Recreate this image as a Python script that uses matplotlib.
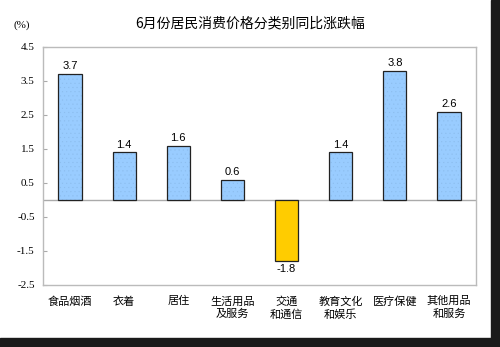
import matplotlib
matplotlib.use("Agg")
import matplotlib.pyplot as plt
from matplotlib.patches import Rectangle

plt.rcParams['font.family'] = ['Noto Sans CJK SC', 'DejaVu Sans']
plt.rcParams['hatch.linewidth'] = 0.3

categories = ["食品烟酒", "衣着", "居住", "生活用品\n及服务", "交通\n和通信",
              "教育文化\n和娱乐", "医疗保健", "其他用品\n和服务"]
values = [3.7, 1.4, 1.6, 0.6, -1.8, 1.4, 3.8, 2.6]
yticks = [4.5, 3.5, 2.5, 1.5, 0.5, -0.5, -1.5, -2.5]

fig = plt.figure(figsize=(5.0, 3.47), dpi=100)
W, H = 500, 347
ax = fig.add_axes([43 / W, 1 - 285 / H, (476 - 43) / W, (285 - 47) / H])

x = list(range(len(categories)))
colors = ["#FFCC00" if v < 0 else "#99CCFF" for v in values]
hatches = ["" if v < 0 else "...." for v in values]
# fill with fine light dots, then outline separately
ax.bar(x, values, width=0.43, color=colors, edgecolor="#8CBDEE", linewidth=0,
       hatch=hatches, zorder=3)
ax.bar(x, values, width=0.43, fill=False, edgecolor="#222222", linewidth=0.9, zorder=4)

ax.axhline(0, color="#AAAAAA", linewidth=1.0, zorder=2)
ax.set_xlim(-0.5, len(categories) - 0.5)
ax.set_ylim(-2.5, 4.5)
ax.set_yticks(yticks)
ax.set_yticklabels([f"{t:.1f}" for t in yticks])
ax.tick_params(axis="y", direction="in", length=3, color="#AAAAAA", pad=6,
               labelsize=8, labelfontfamily="Liberation Serif")
ax.set_xticks(x)
ax.set_xticklabels(categories, fontsize=8, linespacing=1.3)
ax.tick_params(axis="x", length=0, pad=8)
for s in ax.spines.values():
    s.set_color("#BBBBBB")
    s.set_linewidth(1.0)

for xi, v in zip(x, values):
    if v >= 0:
        ax.text(xi, v + 0.08, f"{v:.1f}", ha="center", va="bottom", fontsize=8,
                fontfamily="Liberation Sans")
    else:
        ax.text(xi, v - 0.08, f"{v:.1f}", ha="center", va="top", fontsize=8,
                fontfamily="Liberation Sans")

fig.text(250 / W, 1 - 23 / H, "6月份居民消费价格分类别同比涨跌幅", ha="center", va="center", fontsize=10)
fig.text(22 / W, 1 - 25 / H, "(%)", ha="center", va="center", fontsize=8, fontfamily="Liberation Serif")

# black frame on right and bottom edge
fig.patches.append(Rectangle((491 / W, 0), 9 / W, 1, transform=fig.transFigure, color="#1a1a1a", zorder=10))
fig.patches.append(Rectangle((0, 0), 1, 9 / H, transform=fig.transFigure, color="#1a1a1a", zorder=10))

fig.savefig("out.png", dpi=100)
plt.close()
